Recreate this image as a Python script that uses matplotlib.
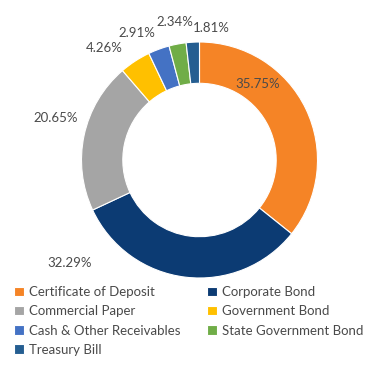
import numpy as np
import matplotlib.pyplot as plt

plt.rcParams['font.family'] = ['Lato', 'DejaVu Sans']

categories = ['Certificate of Deposit', 'Corporate Bond', 'Commercial Paper',
              'Government Bond', 'Cash & Other Receivables',
              'State Government Bond', 'Treasury Bill']
values = [35.75, 32.29, 20.65, 4.26, 2.91, 2.34, 1.81]
colors = ['#F58426', '#0C3B73', '#A5A5A5', '#FFC000', '#4472C4', '#70AD47', '#255E91']

# label offsets from the centre (in radii)
label_pos = [(0.49, 0.64), (-1.10, -0.87), (-1.22, 0.36), (-0.81, 0.95),
             (-0.53, 1.08), (-0.21, 1.17), (0.10, 1.12)]

W, H = 369, 390
cx, cy, R = 199.5, 160, 118

fig = plt.figure(figsize=(W / 100, H / 100), dpi=100)
ax = fig.add_axes([0, 0, 1, 1])

wedges, _ = ax.pie(values, colors=colors, startangle=90, counterclock=False,
                   radius=1, wedgeprops=dict(width=0.35, edgecolor='white', linewidth=0.8))

# pie() resets the limits, so set them afterwards
ax.set_xlim(-cx / R, (W - cx) / R)
ax.set_ylim(-(H - cy) / R, cy / R)
ax.set_aspect('equal')
ax.axis('off')

for v, (x, y) in zip(values, label_pos):
    ax.text(x, y, f'{v:.2f}%', ha='center', va='center', fontsize=9.5, color='#4a4a4a')

order = [0, 2, 4, 6, 1, 3, 5]
leg = fig.legend([wedges[i] for i in order], [categories[i] for i in order],
                 ncol=2, loc='upper left', bbox_to_anchor=(14 / W, 1 - 286 / H),
                 frameon=False, fontsize=9.5, handlelength=0.75, handleheight=0.75,
                 handletextpad=0.4, labelspacing=0.55, columnspacing=2.0,
                 borderaxespad=0, borderpad=0)
for t in leg.get_texts():
    t.set_color('#4a4a4a')

fig.savefig('out.png', dpi=100)
